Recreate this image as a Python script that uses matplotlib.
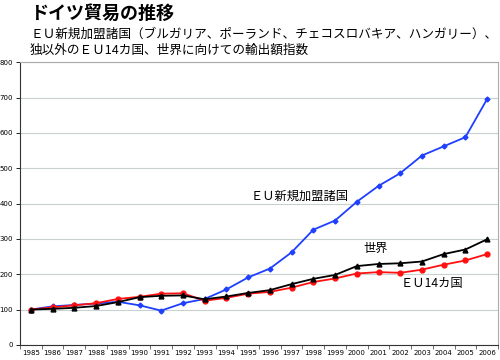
import numpy as np
import matplotlib
matplotlib.use('Agg')
import matplotlib.pyplot as plt

plt.rcParams['font.family'] = ['Noto Sans CJK JP', 'DejaVu Sans']

years = list(range(1985, 2007))
new_members = [100, 109, 113, 117, 122, 112, 97, 118, 130, 157, 191, 216, 262, 326, 352, 405, 450, 486, 536, 562, 588, 696]
world = [100, 102, 105, 110, 121, 135, 139, 140, 129, 137, 147, 155, 172, 187, 198, 223, 229, 231, 236, 257, 270, 299]
eu14 = [100, 106, 112, 118, 130, 136, 145, 146, 125, 133, 145, 150, 162, 178, 188, 202, 206, 204, 213, 227, 239, 257]

fig = plt.figure(figsize=(5, 3.6), dpi=100)
ax = fig.add_axes([0.04, 0.042, 0.956, 0.785])

x = np.arange(len(years))
ax.plot(x, new_members, color='#1f3fff', lw=1.3, marker='D', ms=2.5, zorder=3)
ax.plot(x, world, color='black', lw=1.3, marker='^', ms=3.5, zorder=4)
ax.plot(x, eu14, color='#ff1010', lw=1.3, marker='o', ms=3.5, zorder=3)

ax.set_xlim(-0.5, len(years) - 0.5)
ax.set_ylim(0, 800)
ax.set_yticks(range(0, 801, 100))
ax.set_xticks(x)
ax.set_xticklabels([str(y) for y in years], fontsize=5, family='DejaVu Sans')
ax.set_xticks(np.arange(-0.5, len(years), 1), minor=True)
ax.tick_params(axis='x', which='major', length=0, pad=4)
ax.tick_params(axis='x', which='minor', length=3, width=0.6, color='#555555')
ax.tick_params(axis='y', labelsize=5, length=3, width=0.6, pad=2)
for t in ax.get_yticklabels():
    t.set_family('DejaVu Sans')

ax.grid(axis='y', color='#c8d0d0', lw=0.8)
ax.set_axisbelow(True)
for s in ['top', 'right']:
    ax.spines[s].set_color('#aaaaaa')
    ax.spines[s].set_linewidth(0.8)
for s in ['left', 'bottom']:
    ax.spines[s].set_color('#333333')
    ax.spines[s].set_linewidth(0.8)

ax.text(10.1, 420, 'ＥＵ新規加盟諸国', fontsize=8.8, va='center')
ax.text(15.3, 274, '世界', fontsize=8.8, va='center')
ax.text(17.0, 175, 'ＥＵ14カ国', fontsize=8.8, va='center')

fig.text(0.06, 0.962, 'ドイツ貿易の推移', fontsize=13, fontweight='bold', va='center')
fig.text(0.06, 0.905, 'ＥＵ新規加盟諸国（ブルガリア、ポーランド、チェコスロバキア、ハンガリー）、',
         fontsize=9.1, va='center')
fig.text(0.06, 0.86, '独以外のＥＵ14カ国、世界に向けての輸出額指数', fontsize=9.1, va='center')

fig.savefig('out.png', dpi=100)
